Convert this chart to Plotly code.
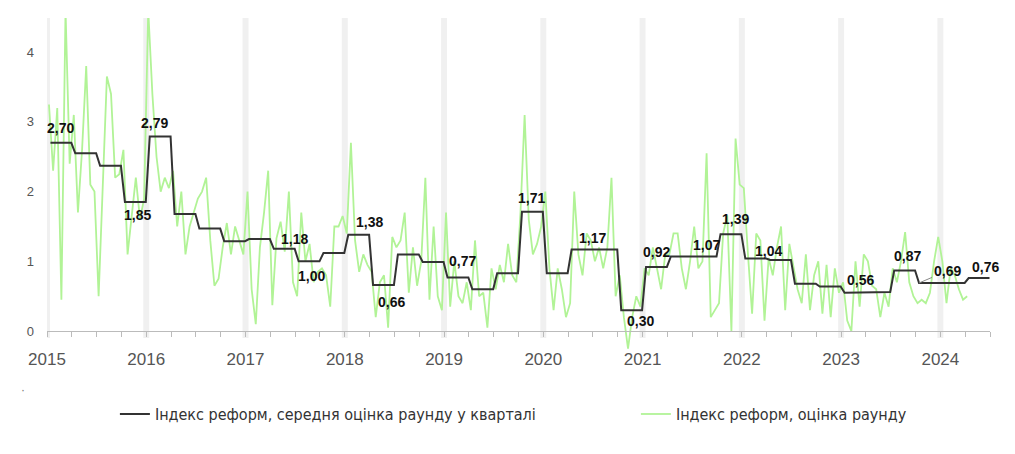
import plotly.graph_objects as go

# ---------------- data ----------------
quarter_starts = [2015 + i * 0.25 for i in range(38)]  # 2015Q1 .. 2024Q2
quarter_avg = [2.70, 2.55, 2.37, 1.85,
               2.79, 1.68, 1.47, 1.29,
               1.32, 1.18, 1.00, 1.12,
               1.38, 0.66, 1.10, 0.99,
               0.77, 0.60, 0.83, 1.71,
               0.83, 1.17, 1.17, 0.30,
               0.92, 1.07, 1.07, 1.39,
               1.04, 1.02, 0.68, 0.64,
               0.55, 0.56, 0.87, 0.69,
               0.69, 0.76]

round_scores = [
    # 2015
    3.25, 2.3, 3.2, 0.45, 4.6, 2.4,
    3.1, 1.7, 2.6, 3.8, 2.1, 2.0,
    0.5, 2.2, 3.65, 3.4, 2.2, 2.25,
    2.6, 1.1, 1.7, 2.2, 1.6, 1.9,
    # 2016
    4.6, 3.4, 2.5, 2.0, 2.2, 2.05,
    2.3, 1.5, 2.0, 1.1, 1.5, 1.7,
    1.9, 2.0, 2.2, 1.3, 0.65, 0.75,
    1.2, 1.55, 1.1, 1.5, 1.3, 1.1,
    # 2017
    2.0, 0.6, 0.1, 1.2, 1.7, 2.3,
    0.37, 1.33, 1.57, 1.14, 2.0, 0.7,
    0.5, 1.7, 1.0, 1.25, 0.7, 0.85,
    0.9, 0.8, 0.35, 1.5, 1.5, 1.65,
    # 2018
    1.4, 2.7, 1.3, 0.85, 1.1, 0.95,
    0.85, 0.2, 0.7, 0.8, 0.05, 1.35,
    1.2, 1.3, 1.7, 0.55, 1.2, 0.65,
    1.0, 2.2, 0.45, 1.5, 0.5, 0.3,
    # 2019
    1.7, 0.35, 1.0, 0.5, 0.4, 0.7,
    0.3, 1.3, 0.5, 0.55, 0.05, 0.9,
    0.6, 0.95, 0.7, 1.25, 0.8, 0.7,
    1.7, 3.1, 1.6, 1.1, 1.25, 1.5,
    # 2020
    2.0, 0.9, 0.3, 0.9, 0.6, 0.2,
    0.4, 2.0, 1.1, 0.8, 1.4, 1.3,
    1.0, 1.2, 0.9, 1.2, 2.2, 0.5,
    0.8, 0.2, -0.25, 0.2, 0.5, 0.35,
    # 2021
    0.9, 0.8, 1.2, 0.9, 0.6, 1.1,
    1.1, 1.4, 1.4, 0.9, 0.6, 1.0,
    1.5, 0.9, 1.0, 2.55, 0.2, 0.3,
    0.4, 1.4, 1.66, 0.0, 2.76, 2.1,
    # 2022
    2.05, 1.1, 0.25, 1.4, 1.3, 0.15,
    1.05, 0.8, 1.2, 1.5, 0.3, 1.25,
    0.9, 0.6, 0.4, 1.1, 0.3, 0.8,
    1.0, 0.25, 0.95, 0.2, 0.9, 0.55,
    # 2023
    0.7, 0.15, 0.0, 1.0, 0.35, 1.1,
    1.0, 0.65, 0.6, 0.2, 0.55, 0.35,
    0.9, 0.7, 1.0, 1.42, 0.7, 0.5,
    0.4, 0.45, 0.4, 0.55, 1.0, 1.35,
    # 2024
    1.0, 0.4, 0.9, 0.8, 0.6, 0.45,
    0.5,
]
round_dates = [2015.02 + i / 24 for i in range(len(round_scores))]

year_ticks = list(range(2015, 2025))
legend_avg = "Індекс реформ, середня оцінка раунду у кварталі"
legend_round = "Індекс реформ, оцінка раунду"

# labelled quarters: (quarter index, yshift px, xshift px)
labels = [(0, 15, 0), (4, 14, -6), (3, -13, 2), (9, 10, 10), (10, -15, 2),
          (12, 13, 11), (13, -17, 8), (16, 16, 5), (19, 14, -1), (21, 12, 10),
          (23, -11, 9), (24, 15, 0), (26, 11, 0), (27, 15, 5), (28, 8, 13),
          (33, 12, -19), (34, 14, 3), (37, 11, 6)]
arrow_label = 35  # 0,69 with leader line

# ---------------- build black step line ----------------
bx, by = [], []
for qs, v in zip(quarter_starts, quarter_avg):
    bx += [qs + 0.035, qs + 0.245]
    by += [v, v]

GREEN = "#b1f396"
BLACK = "#333333"
FONT = "Liberation Sans, Arial, sans-serif"

fig = go.Figure()
fig.add_trace(go.Scatter(x=round_dates, y=round_scores, mode="lines",
                         line=dict(color=GREEN, width=1.8),
                         name=legend_round, hoverinfo="skip"))
fig.add_trace(go.Scatter(x=bx, y=by, mode="lines",
                         line=dict(color=BLACK, width=2),
                         name=legend_avg, hoverinfo="skip", legendwidth=476))

# year bands
for yr in year_ticks:
    fig.add_shape(type="rect", xref="x", yref="y", x0=yr - 0.03, x1=yr + 0.03,
                  y0=-0.1, y1=4.49, fillcolor="#f0f0f0", line_width=0, layer="below")

def fmt(v):
    return f"{v:.2f}".replace(".", ",")

for qi, ys, xs in labels:
    qs = quarter_starts[qi]
    fig.add_annotation(x=qs + 0.14, y=quarter_avg[qi], text=fmt(quarter_avg[qi]),
                       showarrow=False, yshift=ys, xshift=xs,
                       font=dict(family=FONT, size=14, color="#111111", weight="bold"))

qs = quarter_starts[arrow_label]
fig.add_annotation(x=qs + 0.035, y=quarter_avg[arrow_label], text=fmt(quarter_avg[arrow_label]),
                   showarrow=True, arrowhead=0, arrowwidth=1, arrowcolor="#888888",
                   ax=28, ay=-12, standoff=0,
                   font=dict(family=FONT, size=14, color="#111111", weight="bold"))

fig.add_annotation(x=-0.03, y=-0.14, xref="paper", yref="paper", text="·",
                   showarrow=False, font=dict(size=12, color="#777777"))

ymin, ymax = -0.3, 4.49
quarter_ticks = [2015 + i * 0.25 for i in range(39)]
tick_text = [str(int(t)) if t == int(t) else "" for t in quarter_ticks]

fig.update_layout(
    width=1015, height=454,
    margin=dict(l=39, r=33, t=10, b=110),
    paper_bgcolor="white", plot_bgcolor="white",
    font=dict(family=FONT, color="#555555"),
    showlegend=True,
    legend=dict(orientation="h", x=0.072, xanchor="left", y=-0.135, yanchor="top",
                traceorder="reversed", itemwidth=30,
                font=dict(family="DejaVu Sans Condensed, Liberation Sans, Arial", size=16,
                          color="#333333")),
    xaxis=dict(range=[2015, 2024.5], anchor="free", position=-ymin / (ymax - ymin),
               showline=True, linecolor="#bbbbbb", linewidth=1,
               ticks="outside", ticklen=5, tickcolor="#bbbbbb",
               tickvals=quarter_ticks, ticktext=tick_text, ticklabelstandoff=8,
               tickfont=dict(size=17, color="#555555"),
               showgrid=False, zeroline=False, automargin=False),
    yaxis=dict(range=[ymin, ymax], tickvals=[0, 1, 2, 3, 4], showgrid=False,
               zeroline=False, showline=False, ticklabelstandoff=12, automargin=False,
               tickfont=dict(size=13, color="#555555")),
)

fig.write_html("out.html")
